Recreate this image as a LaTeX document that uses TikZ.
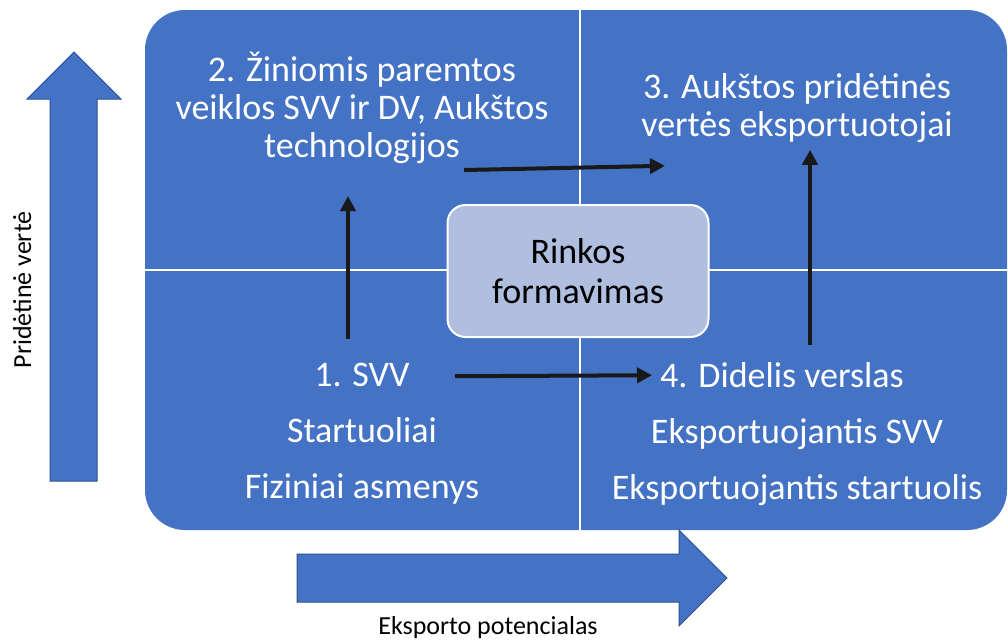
\documentclass[tikz,border=0pt]{standalone}
\usepackage{fontspec}
\setmainfont{Carlito}
\usetikzlibrary{arrows.meta}
\definecolor{quadblue}{HTML}{4472C4}
\definecolor{quadedge}{HTML}{2F528F}
\definecolor{boxfill}{HTML}{B0BEE0}

\begin{document}
\begin{tikzpicture}[x=1pt,y=-1pt,
    qtext/.style={text=white,align=center,inner sep=0pt,font=\fontsize{36}{38}\selectfont},
    flow/.style={draw=black!90,line width=4pt,-{Triangle[length=15pt,width=15pt]}},
    axisarrow/.style={draw=quadedge,fill=quadblue,line width=1pt}]
    \useasboundingbox (0,0) rectangle (1008,641);
    % matrix
    \filldraw [fill=quadblue,draw=none,rounded corners=40pt] (145,10) rectangle (1007,530);
    \draw [white,line width=2.5pt] (580,10) -- (580,530);
    \draw [white,line width=2.5pt] (145,270) -- (1007,270);
    % axes
    \filldraw [axisarrow] (50,481) -- (97,481) -- (97,99) -- (121,99) -- (74,52) -- (27,99) -- (50,99) -- cycle;
    \filldraw [axisarrow] (297,554) -- (679,554) -- (679,530) -- (727,578) -- (679,626) -- (679,602) -- (297,602) -- cycle;
    \node [rotate=90,anchor=base,font=\fontsize{26}{30}\selectfont] (yaxis) at (31,290) {Pridėtinė vertė};
    \node [anchor=base,font=\fontsize{26}{30}\selectfont] (xaxis) at (488,634) {Eksporto potencialas};
    % quadrants
    \node [qtext] (q2) at (362,108) {2. Žiniomis paremtos\\veiklos SVV ir DV, Aukštos\\technologijos};
    \node [qtext] (q3) at (797,108) {3. Aukštos pridėtinės\\vertės eksportuotojai};
    \node [qtext] (q1) at (362,434) {1. SVV\\[18pt]Startuoliai\\[18pt]Fiziniai asmenys};
    \node [qtext] (q4) at (797,434) {4. Didelis verslas\hspace*{30pt}\\[18pt]Eksportuojantis SVV\\[18pt]Eksportuojantis startuolis};
    \node [draw=white,line width=2pt,fill=boxfill,rounded corners=18pt,minimum width=261pt,minimum height=132pt,
           align=center,font=\fontsize{36}{40}\selectfont] (market) at (578,271) {Rinkos\\formavimas};
    % flows
    \draw [flow] ([shift={(-14,-24)}]q1.north) -- ([shift={(-14,32)}]q2.south);
    \draw [flow] ([shift={(102,6)}]q2.south) -- ([shift={(-132,23)}]q3.south);
    \draw [flow] ([shift={(93,13)}]q1.north) -- ([shift={(-145,13)}]q4.north);
    \draw [flow] ([shift={(13,-17)}]q4.north) -- ([shift={(13,7)}]q3.south);
\end{tikzpicture}
\end{document}
